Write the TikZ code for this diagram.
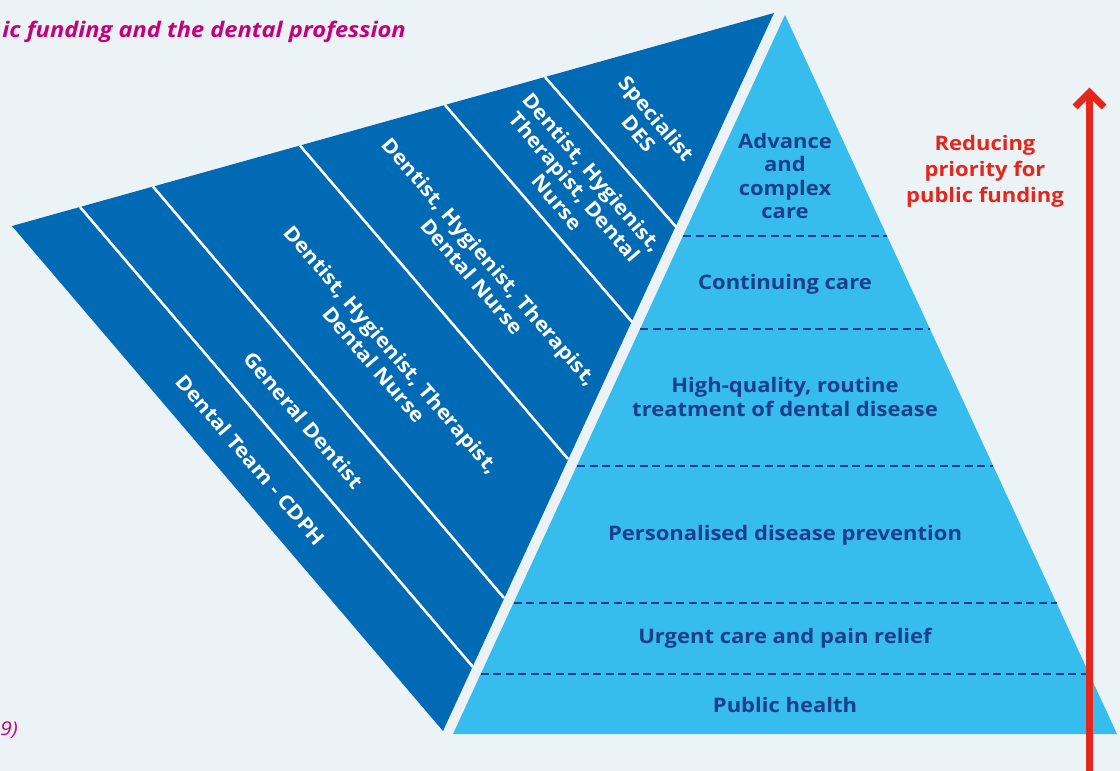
\documentclass[tikz,border=0pt]{standalone}
\usepackage{fontspec}
\setmainfont{Open Sans}[FakeStretch=1.1]
\definecolor{bgc}{RGB}{235,243,246}
\definecolor{dkblue}{RGB}{0,106,180}
\definecolor{ltblue}{RGB}{55,188,238}
\definecolor{navy}{RGB}{28,62,140}
\definecolor{redc}{RGB}{228,38,28}
\definecolor{magc}{RGB}{196,0,122}
\begin{document}
\begin{tikzpicture}[x=1pt,y=-1pt,
  stripe/.style={draw=white,line width=2.6pt},
  tier/.style={draw=navy,line width=2.4pt,dash pattern=on 8pt off 4.5pt},
  rolelbl/.style={text=white,font=\fontsize{20}{23}\selectfont\bfseries,align=center,rotate=-49.5,inner sep=0pt},
  tierlbl/.style={text=navy,font=\fontsize{20}{23.3}\selectfont\bfseries,align=center,inner sep=0pt},
  redlbl/.style={text=redc,font=\fontsize{20}{26}\selectfont\bfseries,align=center,inner sep=0pt},
  arrowline/.style={draw=redc,line width=7pt,miter limit=10}]
\useasboundingbox (0,0) rectangle (1120,771);
\fill[bgc] (0,0) rectangle (1120,771);
% title fragments
\node[text=magc,font=\fontsize{21.5}{24}\selectfont\bfseries\itshape,anchor=base east,inner sep=0pt] (title) at (406,37) {ic funding and the dental profession};
\node[text=magc,font=\fontsize{19}{23}\selectfont\itshape,anchor=base east,inner sep=0pt] (src) at (18,735) {9)};
% dark triangle
\fill[dkblue] (12,226) -- (774,13) -- (443,731) -- cycle;
\coordinate (t1) at (80,207.0);  \coordinate (r1) at (473,667);
\coordinate (t2) at (153,186.6); \coordinate (r2) at (504,598);
\coordinate (t3) at (300,145.5); \coordinate (r3) at (568,459);
\coordinate (t4) at (445,105.0); \coordinate (r4) at (632,322);
\coordinate (t5) at (545,77.0);  \coordinate (r5) at (677,228);
\foreach \i in {1,...,5} \draw[stripe] (t\i) -- (r\i);
% pyramid
\fill[ltblue] (785,15) -- (1117,734) -- (453,734) -- cycle;
\coordinate (l1) at (683,236);   \coordinate (m1) at (887,236);
\coordinate (l2) at (640,329);   \coordinate (m2) at (930,329);
\coordinate (l3) at (577,466);   \coordinate (m3) at (993,466);
\coordinate (l4) at (513.5,603); \coordinate (m4) at (1056.5,603);
\coordinate (l5) at (480.7,674); \coordinate (m5) at (1089.3,674);
\foreach \i in {1,...,5} \draw[tier] (l\i) -- (m\i);
% pyramid labels
\node[tierlbl] (adv) at (785,176) {Advance\\and\\complex\\care};
\node[tierlbl] (cont) at (785,284) {Continuing care};
\node[tierlbl] (hq) at (785,397) {High-quality, routine\\treatment of dental disease};
\node[tierlbl] (pers) at (785,535) {Personalised disease prevention};
\node[tierlbl] (urg) at (785,638) {Urgent care and pain relief};
\node[tierlbl] (pub) at (785,705) {Public health};
% role labels
\node[rolelbl] (spec) at (648,126) {Specialist\\DES};
\node[rolelbl] (dhtd) at (575,187) {Dentist, Hygienist,\\Therapist, Dental\\Nurse};
\node[rolelbl] (dht1) at (481,269) {Dentist, Hygienist, Therapist,\\Dental Nurse};
\node[rolelbl] (dht2) at (383,357) {Dentist, Hygienist, Therapist,\\Dental Nurse};
\node[rolelbl] (gen) at (304,420) {General Dentist};
\node[rolelbl] (team) at (251,460) {Dental Team - CDPH};
% red arrow
\node[redlbl] (reduce) at (985,171) {Reducing\\priority for\\public funding};
\coordinate (abot) at (1089.5,775);
\coordinate (atop) at (1089.5,92.5);
\draw[arrowline] (abot) -- ([yshift=-3pt]atop);
\draw[arrowline,line join=miter] ([shift={(-14.5,14.5)}]atop) -- (atop) -- ([shift={(14.5,14.5)}]atop);
\end{tikzpicture}
\end{document}
